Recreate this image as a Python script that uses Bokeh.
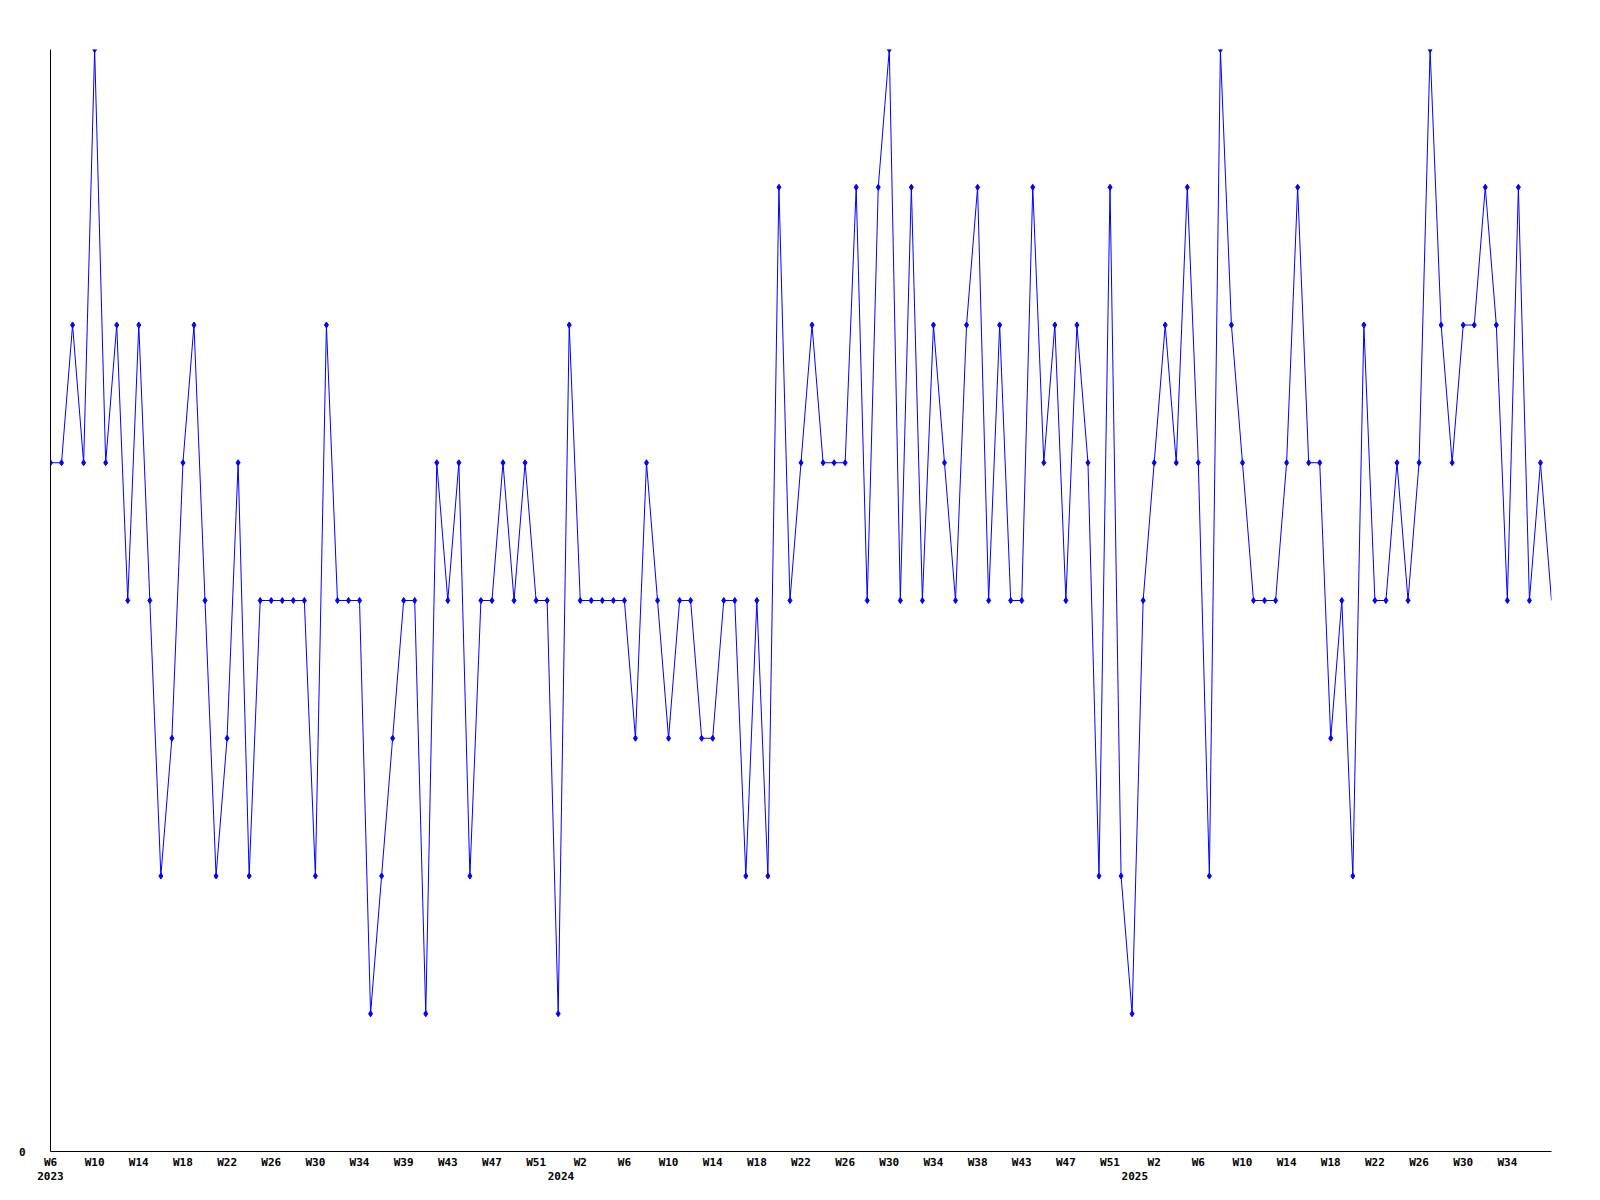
from bokeh.plotting import figure
from bokeh.models import Range1d, FixedTicker, LinearAxis
from bokeh.embed import file_html
from bokeh.resources import INLINE

# weekly values, 2023 W6 .. 2025 W38
values = [5, 5, 6, 5, 8, 5, 6, 4, 6, 4, 2, 3, 5, 6, 4, 2, 3, 5, 2, 4,
          4, 4, 4, 4, 2, 6, 4, 4, 4, 1, 2, 3, 4, 4, 1, 5, 4, 5, 2, 4,
          4, 5, 4, 5, 4, 4, 1, 6, 4, 4, 4, 4, 4, 3, 5, 4, 3, 4, 4, 3,
          3, 4, 4, 2, 4, 2, 7, 4, 5, 6, 5, 5, 5, 7, 4, 7, 8, 4, 7, 4,
          6, 5, 4, 6, 7, 4, 6, 4, 4, 7, 5, 6, 4, 6, 5, 2, 7, 2, 1, 4,
          5, 6, 5, 7, 5, 2, 8, 6, 5, 4, 4, 4, 5, 7, 5, 5, 3, 4, 2, 6,
          4, 4, 5, 4, 5, 8, 6, 5, 6, 6, 7, 6, 4, 7, 4, 5, 4]

# x tick labels, one every 4 weeks from the first point
tick_labels = ["W6", "W10", "W14", "W18", "W22", "W26", "W30", "W34", "W39", "W43", "W47", "W51",
               "W2", "W6", "W10", "W14", "W18", "W22", "W26", "W30", "W34", "W38", "W43", "W47", "W51",
               "W2", "W6", "W10", "W14", "W18", "W22", "W26", "W30", "W34"]
tick_step = 4

# years and the number of weekly points in each
year_names = ["2023", "2024", "2025"]
year_counts = [47, 52, 38]

x = list(range(len(values)))

FONT = "DejaVu Sans Mono"

p = figure(frame_width=1501, frame_height=1102, output_backend="svg", toolbar_location=None,
           x_range=Range1d(0, len(values) - 1), y_range=Range1d(0, 8),
           min_border_left=50, min_border_right=41, min_border_top=49, min_border_bottom=0,
           x_axis_type=None, y_axis_type=None)
p.outline_line_color = None
p.grid.visible = False
p.background_fill_color = "white"
p.border_fill_color = "white"

p.line(x, values, line_color="#0000ff", line_width=1)
p.scatter(x[:-1], values[:-1], marker="diamond", size=6,
          fill_color="#0000ff", line_color="#0000ff", line_width=1)

tick_pos = [i * tick_step for i in range(len(tick_labels))]

def style(ax):
    ax.major_tick_line_color = None
    ax.minor_tick_line_color = None
    ax.major_tick_out = 0
    ax.major_tick_in = 0
    ax.minor_tick_out = 0
    ax.minor_tick_in = 0
    ax.major_label_text_font = FONT
    ax.major_label_text_font_style = "bold"
    ax.major_label_text_font_size = "11px"
    ax.major_label_text_color = "black"

xa = LinearAxis(ticker=FixedTicker(ticks=tick_pos),
                major_label_overrides={t: l for t, l in zip(tick_pos, tick_labels)})
style(xa)
xa.axis_line_color = "black"
xa.major_label_standoff = 4
p.add_layout(xa, "below")

year_pos = []
start = 0
for c in year_counts:
    year_pos.append(max(0, start - 0.75))
    start += c
ya2 = LinearAxis(ticker=FixedTicker(ticks=year_pos),
                 major_label_overrides={t: l for t, l in zip(year_pos, year_names)})
style(ya2)
ya2.axis_line_color = None
ya2.major_label_standoff = 0
p.add_layout(ya2, "below")

yax = LinearAxis(ticker=FixedTicker(ticks=[0]))
style(yax)
yax.axis_line_color = "black"
yax.major_label_standoff = 25
p.add_layout(yax, "left")

open("out.html", "w").write(file_html(p, INLINE))
